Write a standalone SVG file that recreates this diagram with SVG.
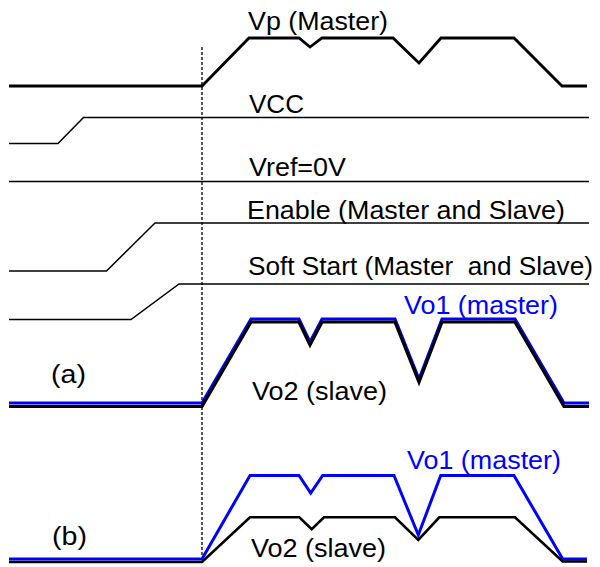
<svg xmlns="http://www.w3.org/2000/svg" width="600" height="567" viewBox="0 0 600 567">
<style>
text{font-family:"Liberation Sans",Arial,sans-serif;font-size:26.5px;fill:#000}
.blue{fill:#0000ff}
.thin{fill:none;stroke:#000;stroke-width:1.5;stroke-linejoin:miter}
.vp{fill:none;stroke:#000;stroke-width:2.8}
.wb{fill:none;stroke:#0000ff;stroke-width:3}
.wk{fill:none;stroke:#000;stroke-width:3.2}
.wk2{fill:none;stroke:#000;stroke-width:2.6}
</style>
<rect width="600" height="567" fill="#fff"/>
<g id="marker-line">
<line x1="202" y1="47" x2="202" y2="556" stroke="#000" stroke-width="1.3" stroke-dasharray="3,2"/>
</g>
<g id="vp">
<polyline class="vp" points="9,86 202,86 249,38 299,38 310,47 322,38 393,38 419,63 441,38 514,38 562,86 587,86"/>
<text x="248" y="30" textLength="140" lengthAdjust="spacingAndGlyphs">Vp (Master)</text>
</g>
<g id="vcc">
<polyline class="thin" points="9,143.5 58,143.5 83.5,117.5 589,117.5"/>
<text x="249" y="113" textLength="55" lengthAdjust="spacingAndGlyphs">VCC</text>
</g>
<g id="vref">
<line class="thin" x1="9" y1="181.5" x2="589" y2="181.5"/>
<text x="249" y="176" textLength="97" lengthAdjust="spacingAndGlyphs">Vref=0V</text>
</g>
<g id="enable">
<polyline class="thin" points="9,271 106.5,271 155,223 589,223"/>
<text x="247" y="219" textLength="318" lengthAdjust="spacingAndGlyphs">Enable (Master and Slave)</text>
</g>
<g id="softstart">
<polyline class="thin" points="9,319.5 131,319.5 179,284 589,284"/>
<text x="248" y="275" xml:space="preserve" textLength="345" lengthAdjust="spacingAndGlyphs">Soft Start (Master  and Slave)</text>
</g>
<g id="case-a">
<polyline class="wb" points="9,403 202,403 251,319 299,319 310,342 322,319 395,319 419,379 442,319 515,319 564,403 589,403"/>
<polyline class="wk" points="9,406.5 202,406.5 251,322 299,322 310,345 322,322 395,322 419,382 442,322 515,322 564,406.5 589,406.5"/>
<text class="blue" x="404" y="314" textLength="154" lengthAdjust="spacingAndGlyphs">Vo1 (master)</text>
<text x="252" y="400" textLength="135" lengthAdjust="spacingAndGlyphs">Vo2 (slave)</text>
<text x="51" y="383" textLength="35" lengthAdjust="spacingAndGlyphs">(a)</text>
</g>
<g id="case-b">
<polyline class="wb" points="9,559 202,559 250,475.5 299,475.5 310.7,493 322.7,475.5 394,475.5 418.3,535 440.7,475.5 514,475.5 562.7,559 587,559"/>
<polyline class="wk2" points="9,562 202,562 250,517.3 299.3,517.3 311.7,529.3 324,517.3 395,517.3 418.3,540 439.3,517.3 515,517.3 562.7,561.5 587,561.5"/>
<text class="blue" x="407" y="469" textLength="154" lengthAdjust="spacingAndGlyphs">Vo1 (master)</text>
<text x="251" y="557" textLength="135" lengthAdjust="spacingAndGlyphs">Vo2 (slave)</text>
<text x="52" y="545" textLength="35" lengthAdjust="spacingAndGlyphs">(b)</text>
</g>
<g id="connectors"></g>
</svg>
